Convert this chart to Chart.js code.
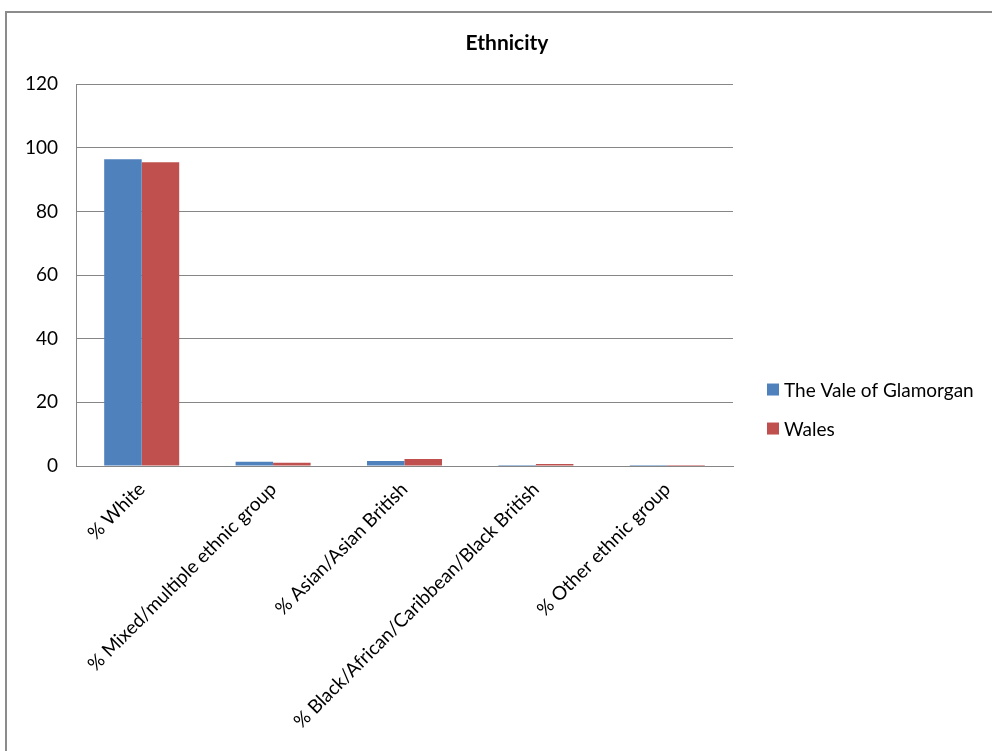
<!DOCTYPE html>
<html>
<head>
<meta charset="utf-8">
<title>Ethnicity</title>
<script src="https://cdn.jsdelivr.net/npm/chart.js@4"></script>
<style>
    html, body { margin: 0; padding: 0; background: #fff; overflow: hidden; }
    #frame {
        position: absolute;
        left: 5px; top: 11px;
        width: 1000px; height: 760px;
        border-top: 2px solid #8c8c8c;
        border-left: 2px solid #8c8c8c;
    }
    #wrap { position: absolute; left: 8px; top: 14px; width: 998px; height: 737px; }
</style>
</head>
<body>
<div id="frame"></div>
<div id="wrap"><canvas id="ethnicityChart"></canvas></div>
<script>
// ------------------------
// Data
// ------------------------
const categories = [
    "% White",
    "% Mixed/multiple ethnic group",
    "% Asian/Asian British",
    "% Black/African/Caribbean/Black British",
    "% Other ethnic group"
];
const valeOfGlamorgan = [96.4, 1.3, 1.6, 0.3, 0.3];
const wales = [95.5, 1.0, 2.2, 0.6, 0.3];
const yTicks = [0, 20, 40, 60, 80, 100, 120];

const FONT = "Lato, 'Open Sans', sans-serif";
const BLUE = "#4F81BD";
const RED = "#C0504D";

// Legend drawn to the right of the plot, Excel style
const sideLegend = {
    id: "sideLegend",
    afterDraw(chart) {
        const ctx = chart.ctx;
        const x = chart.chartArea.right + 34;
        const yMid = chart.height * 0.536;
        const gap = 39;
        ctx.save();
        ctx.font = "19px " + FONT;
        ctx.textBaseline = "middle";
        chart.data.datasets.forEach((ds, i) => {
            const y = yMid + (i - 0.5) * gap;
            ctx.fillStyle = ds.backgroundColor;
            ctx.fillRect(x, y - 6, 12, 12);
            ctx.fillStyle = "#000";
            ctx.fillText(ds.label, x + 17, y + 1);
        });
        ctx.restore();
    }
};

const chart = new Chart(document.getElementById("ethnicityChart"), {
    type: "bar",
    data: {
        labels: categories,
        datasets: [
            { label: "The Vale of Glamorgan", data: valeOfGlamorgan, backgroundColor: BLUE },
            { label: "Wales", data: wales, backgroundColor: RED }
        ]
    },
    options: {
        responsive: true,
        maintainAspectRatio: false,
        animation: false,
        datasets: { bar: { categoryPercentage: 0.571, barPercentage: 1.0 } },
        plugins: {
            legend: { display: false },
            tooltip: { enabled: false },
            title: {
                display: true,
                text: "Ethnicity",
                color: "#000",
                font: { family: FONT, size: 21, weight: "bold" },
                padding: { top: 17, bottom: 28 }
            }
        },
        scales: {
            x: {
                grid: { display: false, drawTicks: false },
                border: { display: true, color: "#868686", width: 1 },
                ticks: {
                    color: "#000",
                    font: { family: FONT, size: 19 },
                    minRotation: 45,
                    maxRotation: 45,
                    padding: 12,
                    autoSkip: false
                },
                afterFit: (scale) => { scale.height = 285; }
            },
            y: {
                min: 0,
                max: 120,
                afterBuildTicks: (scale) => { scale.ticks = yTicks.map(v => ({ value: v })); },
                grid: { color: "#868686", lineWidth: 1, drawTicks: false },
                border: { display: true, color: "#868686", width: 1 },
                ticks: {
                    color: "#000",
                    font: { family: FONT, size: 19 },
                    padding: 18
                },
                afterFit: (scale) => { scale.width = 68; }
            },
            // empty side axis that keeps room for the legend
            legendSpace: {
                position: "right",
                display: true,
                grid: { display: false, drawTicks: false },
                border: { display: false },
                ticks: { display: false },
                afterFit: (scale) => { scale.width = 273; }
            }
        }
    },
    plugins: [sideLegend]
});
</script>
</body>
</html>
